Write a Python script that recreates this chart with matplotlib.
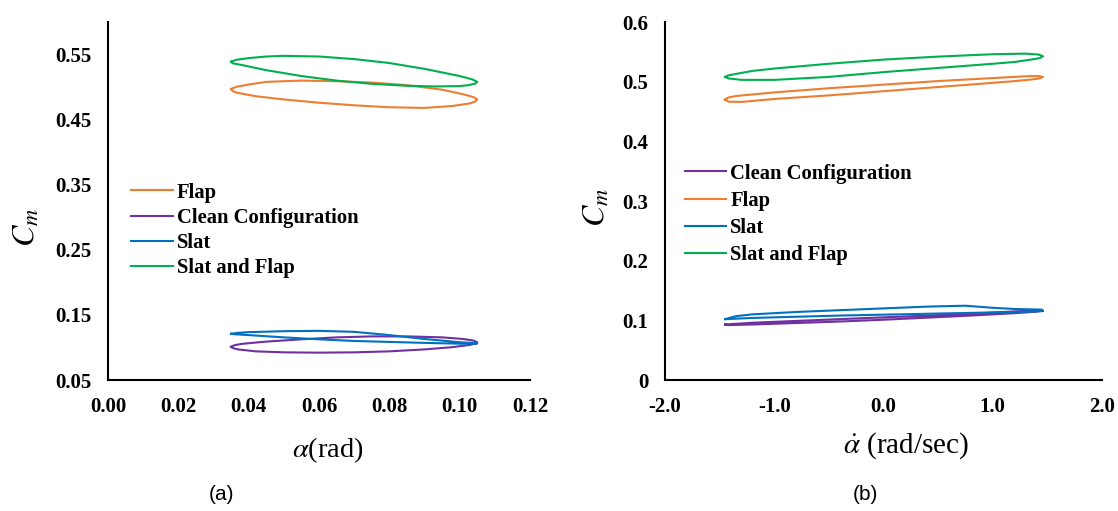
import numpy as np
import matplotlib
matplotlib.use("Agg")
import matplotlib.pyplot as plt
from matplotlib.ticker import FormatStrFormatter

plt.rcParams["font.family"] = "Liberation Serif"
plt.rcParams["mathtext.fontset"] = "stix"
plt.rcParams["axes.unicode_minus"] = False

# Colours (Excel default palette)
c_flap = "#ED7D31"
c_clean = "#7030A0"
c_slat = "#0070C0"
c_both = "#00B050"

# ---- Panel (a): Cm vs alpha (rad), loops ----
a_both_x = [0.035, 0.0365, 0.040, 0.045, 0.050, 0.060, 0.070, 0.080, 0.090, 0.100, 0.1035, 0.105,
            0.1045, 0.1025, 0.100, 0.093, 0.085, 0.075, 0.065, 0.055, 0.045, 0.038, 0.0355, 0.035]
a_both_y = [0.539, 0.5420, 0.5445, 0.547, 0.548, 0.547, 0.543, 0.537, 0.528, 0.517, 0.512, 0.508,
            0.5055, 0.503, 0.5015, 0.501, 0.502, 0.505, 0.510, 0.517, 0.526, 0.534, 0.5365, 0.539]

a_flap_x = [0.035, 0.0365, 0.040, 0.045, 0.055, 0.065, 0.075, 0.085, 0.095, 0.101, 0.104, 0.105,
            0.1045, 0.103, 0.098, 0.090, 0.080, 0.070, 0.060, 0.050, 0.042, 0.037, 0.0355, 0.035]
a_flap_y = [0.497, 0.5005, 0.504, 0.508, 0.510, 0.509, 0.507, 0.503, 0.496, 0.489, 0.4845, 0.481,
            0.478, 0.475, 0.471, 0.468, 0.469, 0.472, 0.476, 0.481, 0.486, 0.491, 0.4935, 0.497]

a_slat_x = [0.035, 0.037, 0.040, 0.050, 0.060, 0.070, 0.080, 0.090, 0.100, 0.104, 0.105,
            0.103, 0.100, 0.090, 0.080, 0.070, 0.060, 0.050, 0.040, 0.036, 0.035]
a_slat_y = [0.121, 0.1225, 0.1235, 0.125, 0.1255, 0.124, 0.119, 0.113, 0.108, 0.1068, 0.1062,
            0.1057, 0.1058, 0.107, 0.1085, 0.110, 0.1125, 0.1155, 0.119, 0.1203, 0.121]

a_clean_x = [0.035, 0.036, 0.038, 0.045, 0.055, 0.065, 0.075, 0.085, 0.095, 0.101, 0.104, 0.105,
             0.1045, 0.103, 0.098, 0.090, 0.080, 0.070, 0.060, 0.050, 0.042, 0.037, 0.0355, 0.035]
a_clean_y = [0.101, 0.1035, 0.1055, 0.109, 0.1125, 0.1155, 0.117, 0.117, 0.1155, 0.113, 0.1105, 0.108,
             0.106, 0.104, 0.1005, 0.097, 0.094, 0.0925, 0.092, 0.0925, 0.094, 0.097, 0.099, 0.101]

# ---- Panel (b): Cm vs alpha-dot (rad/sec) ----
b_both_x = [-1.45, -1.42, -1.35, -1.2, -1.0, -0.5, 0.0, 0.5, 1.0, 1.3, 1.42, 1.46,
            1.43, 1.35, 1.2, 1.0, 0.5, 0.0, -0.5, -1.0, -1.3, -1.42, -1.45]
b_both_y = [0.508, 0.5105, 0.513, 0.518, 0.522, 0.530, 0.537, 0.542, 0.546, 0.547, 0.5455, 0.5425,
            0.5395, 0.537, 0.533, 0.530, 0.523, 0.516, 0.508, 0.503, 0.503, 0.5055, 0.508]

b_flap_x = [-1.45, -1.42, -1.35, -1.0, -0.5, 0.0, 0.5, 1.0, 1.3, 1.42, 1.46,
            1.43, 1.35, 1.2, 1.0, 0.5, 0.0, -0.5, -1.0, -1.3, -1.42, -1.45]
b_flap_y = [0.470, 0.4735, 0.476, 0.482, 0.489, 0.495, 0.501, 0.506, 0.509, 0.5095, 0.508,
            0.5055, 0.5035, 0.501, 0.498, 0.491, 0.484, 0.477, 0.471, 0.466, 0.4665, 0.470]

b_slat_x = [-1.45, -1.4, -1.35, -1.2, -0.8, -0.4, 0.0, 0.4, 0.75, 1.0, 1.2, 1.45,
            1.46, 1.2, 0.8, 0.4, 0.0, -0.4, -0.8, -1.2, -1.45]
b_slat_y = [0.102, 0.1045, 0.107, 0.110, 0.114, 0.117, 0.120, 0.123, 0.1245, 0.121, 0.119, 0.118,
            0.1155, 0.114, 0.1125, 0.111, 0.1095, 0.108, 0.106, 0.104, 0.102]

b_clean_x = [-1.45, -1.2, -0.8, -0.4, 0.0, 0.4, 0.8, 1.2, 1.42, 1.46,
             1.4, 1.2, 0.8, 0.4, 0.0, -0.4, -0.8, -1.2, -1.42, -1.45]
b_clean_y = [0.093, 0.096, 0.099, 0.102, 0.105, 0.108, 0.111, 0.115, 0.1165, 0.116,
             0.1145, 0.112, 0.108, 0.1045, 0.101, 0.098, 0.0955, 0.093, 0.092, 0.093]

a_xticks = [0.00, 0.02, 0.04, 0.06, 0.08, 0.10, 0.12]
a_yticks = [0.05, 0.15, 0.25, 0.35, 0.45, 0.55]
b_xticks = [-2.0, -1.0, 0.0, 1.0, 2.0]
b_yticks = [0, 0.1, 0.2, 0.3, 0.4, 0.5, 0.6]
b_ylabels = ["0", "0.1", "0.2", "0.3", "0.4", "0.5", "0.6"]

fig = plt.figure(figsize=(11.18, 5.11), dpi=100)
ax1 = fig.add_axes([108/1118, 131/511, 422/1118, 358/511])
ax2 = fig.add_axes([665/1118, 131/511, 437/1118, 358/511])

lw = 1.5
ax1.plot(a_flap_x, a_flap_y, color=c_flap, lw=lw, label="Flap")
ax1.plot(a_clean_x, a_clean_y, color=c_clean, lw=lw, label="Clean Configuration")
ax1.plot(a_slat_x, a_slat_y, color=c_slat, lw=lw, label="Slat")
ax1.plot(a_both_x, a_both_y, color=c_both, lw=lw, label="Slat and Flap")

ax2.plot(b_clean_x, b_clean_y, color=c_clean, lw=lw, label="Clean Configuration")
ax2.plot(b_flap_x, b_flap_y, color=c_flap, lw=lw, label="Flap")
ax2.plot(b_slat_x, b_slat_y, color=c_slat, lw=lw, label="Slat")
ax2.plot(b_both_x, b_both_y, color=c_both, lw=lw, label="Slat and Flap")

ax1.set_xlim(0, 0.12)
ax1.set_ylim(0.05, 0.6)
ax1.set_xticks(a_xticks)
ax1.set_yticks(a_yticks)
ax1.xaxis.set_major_formatter(FormatStrFormatter("%.2f"))
ax1.yaxis.set_major_formatter(FormatStrFormatter("%.2f"))

ax2.set_xlim(-2, 2)
ax2.set_ylim(0, 0.6)
ax2.set_xticks(b_xticks)
ax2.set_yticks(b_yticks)
ax2.xaxis.set_major_formatter(FormatStrFormatter("%.1f"))
ax2.set_yticklabels(b_ylabels)

for ax in (ax1, ax2):
    for s in ("top", "right"):
        ax.spines[s].set_visible(False)
    for s in ("left", "bottom"):
        ax.spines[s].set_linewidth(1.5)
        ax.spines[s].set_color("black")
    ax.tick_params(axis="both", length=0, labelsize=15)
    ax.tick_params(axis="x", pad=12)
    ax.tick_params(axis="y", pad=12)
    for t in ax.get_xticklabels() + ax.get_yticklabels():
        t.set_fontweight("bold")

ax1.set_xlabel(r"$\alpha$(rad)", fontsize=20.5)
ax1.xaxis.set_label_coords(0.52, -0.155)
ax1.set_ylabel(r"$C_m$", fontsize=23)
ax1.yaxis.set_label_coords(-0.156, 0.427)

ax2.set_xlabel(r"$\dot{\alpha}$ (rad/sec)", fontsize=21)
ax2.xaxis.set_label_coords(0.552, -0.14)
ax2.set_ylabel(r"$C_m$", fontsize=23)
ax2.yaxis.set_label_coords(-0.121, 0.483)

leg_kw = dict(frameon=False, prop={"weight": "bold", "size": 14.9},
              handlelength=2.0, handletextpad=0.2, borderaxespad=0)
ax1.legend(loc="center left", bbox_to_anchor=(0.036, 0.418), labelspacing=0.25, **leg_kw)
ax2.legend(loc="center left", bbox_to_anchor=(0.026, 0.462), labelspacing=0.35, **leg_kw)

fig.text(222/1118, 1 - 494/511, "(a)", ha="center", va="center",
         fontsize=15, family="Liberation Sans")
fig.text(865/1118, 1 - 494/511, "(b)", ha="center", va="center",
         fontsize=15, family="Liberation Sans")

fig.savefig("out.png", dpi=100, facecolor="white")
